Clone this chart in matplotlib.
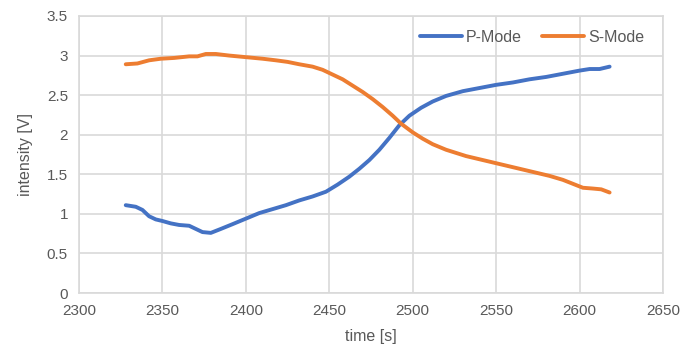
#! /usr/bin/env python3

import matplotlib.pyplot as plt

# values
p_time = [2328, 2334, 2338, 2342, 2346, 2350, 2355, 2360, 2366, 2370, 2374, 2379,
          2385, 2392, 2400, 2408, 2416, 2424, 2432, 2440, 2448, 2455, 2462, 2468,
          2474, 2480, 2486, 2492, 2498, 2505, 2512, 2520, 2530, 2540, 2550, 2560,
          2570, 2580, 2590, 2600, 2606, 2612, 2618]
p_mode = [1.11, 1.09, 1.05, 0.97, 0.93, 0.91, 0.88, 0.86, 0.85, 0.81, 0.77, 0.76,
          0.81, 0.87, 0.94, 1.01, 1.06, 1.11, 1.17, 1.22, 1.28, 1.37, 1.47, 1.57,
          1.68, 1.81, 1.96, 2.12, 2.24, 2.34, 2.42, 2.49, 2.55, 2.59, 2.63, 2.66,
          2.70, 2.73, 2.77, 2.81, 2.83, 2.83, 2.86]

s_time = [2328, 2335, 2342, 2349, 2357, 2366, 2371, 2376, 2382, 2390, 2400, 2410,
          2418, 2425, 2432, 2440, 2446, 2452, 2458, 2464, 2470, 2476, 2482, 2488,
          2493, 2500, 2506, 2512, 2520, 2532, 2542, 2550, 2560, 2572, 2582, 2590,
          2596, 2602, 2608, 2613, 2618]
s_mode = [2.89, 2.90, 2.94, 2.96, 2.97, 2.99, 2.99, 3.02, 3.02, 3.00, 2.98, 2.96,
          2.94, 2.92, 2.89, 2.86, 2.82, 2.76, 2.70, 2.62, 2.54, 2.45, 2.35, 2.24,
          2.14, 2.03, 1.95, 1.88, 1.81, 1.73, 1.68, 1.64, 1.59, 1.53, 1.48, 1.43,
          1.38, 1.33, 1.32, 1.31, 1.27]

plt.rcParams['font.family'] = ['Liberation Sans', 'DejaVu Sans']

fig = plt.figure(figsize=(6.83, 3.6), dpi=100)
ax = fig.add_axes([0.1157, 0.186, 0.855, 0.7696])

ax.plot(p_time, p_mode, color='#4472C4', lw=2.8, label='P-Mode',
        solid_capstyle='round', solid_joinstyle='round')
ax.plot(s_time, s_mode, color='#ED7D31', lw=2.8, label='S-Mode',
        solid_capstyle='round', solid_joinstyle='round')

ax.set_xlim(2300, 2650)
ax.set_ylim(0, 3.5)
ax.set_xticks(range(2300, 2651, 50))
ax.set_yticks([0, 0.5, 1, 1.5, 2, 2.5, 3, 3.5])
ax.set_yticklabels(['0', '0.5', '1', '1.5', '2', '2.5', '3', '3.5'])
ax.grid(True, color='#D9D9D9', lw=1.2)
ax.set_axisbelow(True)
for s in ax.spines.values():
    s.set_color('#D9D9D9')
    s.set_linewidth(1.2)
ax.tick_params(length=0, colors='#595959', labelsize=11, pad=8)

ax.set_xlabel('time [s]', fontsize=11.5, color='#595959', labelpad=8)
ax.set_ylabel('intensity [V]', fontsize=11.5, color='#595959', labelpad=10)

ax.legend(loc='center right', bbox_to_anchor=(652 / 683, 0.897),
          bbox_transform=fig.transFigure, ncol=2, frameon=False, fontsize=11.5,
          handlelength=2.6, handletextpad=0.25, columnspacing=1.3, borderpad=0,
          labelcolor='#595959')

plt.savefig('out.png', dpi=100)
